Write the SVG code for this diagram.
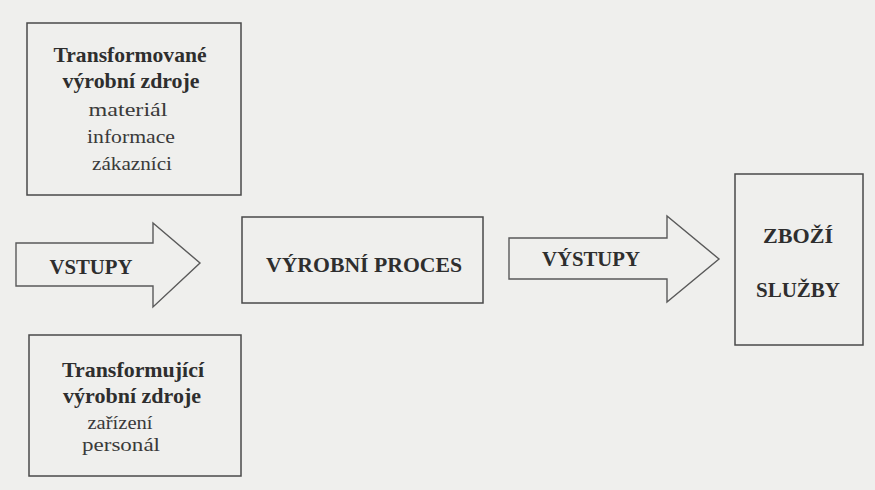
<svg xmlns="http://www.w3.org/2000/svg" width="875" height="490" viewBox="0 0 875 490">
  <style>
    .box { fill: none; stroke: #4a4a4a; stroke-width: 1.5; }
    .arrow { fill: none; stroke: #5a5a5a; stroke-width: 1.4; stroke-linejoin: miter; }
    .t { fill: #2e2e2e; text-anchor: middle; }
    .b { font-weight: bold; font-size: 21px; }
    .r { font-size: 19.5px; fill: #3a3a3a; }
  </style>
  <rect x="0" y="0" width="875" height="490" fill="#efefed"/>

  <g font-family="Liberation Serif, DejaVu Serif, serif">
  <g id="transformovane">
    <rect class="box" x="27" y="23" width="214" height="172"/>
    <text class="t b" x="130" y="62" textLength="153" lengthAdjust="spacingAndGlyphs">Transformované</text>
    <text class="t b" x="131" y="88" textLength="137" lengthAdjust="spacingAndGlyphs">výrobní zdroje</text>
    <text class="t r" x="128" y="116" textLength="79" lengthAdjust="spacingAndGlyphs">materiál</text>
    <text class="t r" x="131" y="143" textLength="88" lengthAdjust="spacingAndGlyphs">informace</text>
    <text class="t r" x="132" y="170" textLength="80" lengthAdjust="spacingAndGlyphs">zákazníci</text>
  </g>

  <g id="transformujici">
    <rect class="box" x="29" y="335" width="212" height="141"/>
    <text class="t b" x="133" y="377" textLength="142" lengthAdjust="spacingAndGlyphs">Transformující</text>
    <text class="t b" x="132" y="403" textLength="138" lengthAdjust="spacingAndGlyphs">výrobní zdroje</text>
    <text class="t r" x="120" y="429" textLength="65" lengthAdjust="spacingAndGlyphs">zařízení</text>
    <text class="t r" x="121" y="451" textLength="78" lengthAdjust="spacingAndGlyphs">personál</text>
  </g>

  <g id="vyrobni-proces">
    <rect class="box" x="242" y="217" width="241" height="86"/>
    <text class="t b" x="364" y="272" textLength="196" lengthAdjust="spacingAndGlyphs">VÝROBNÍ PROCES</text>
  </g>

  <g id="zbozi-sluzby">
    <rect class="box" x="735" y="174" width="128" height="171"/>
    <text class="t b" x="798" y="243" textLength="70" lengthAdjust="spacingAndGlyphs">ZBOŽÍ</text>
    <text class="t b" x="798" y="297" textLength="84" lengthAdjust="spacingAndGlyphs">SLUŽBY</text>
  </g>

  <g id="connectors">
    <g id="vstupy">
      <polygon class="arrow" points="16,243 153,243 153,223 200,263 153,307 153,286 16,286"/>
      <text class="t b" x="91" y="274" textLength="83" lengthAdjust="spacingAndGlyphs">VSTUPY</text>
    </g>
    <g id="vystupy">
      <polygon class="arrow" points="509,238 667,238 667,216 719,259 667,302 667,279 509,279"/>
      <text class="t b" x="591" y="266" textLength="98" lengthAdjust="spacingAndGlyphs">VÝSTUPY</text>
    </g>
  </g>
  </g>
</svg>
